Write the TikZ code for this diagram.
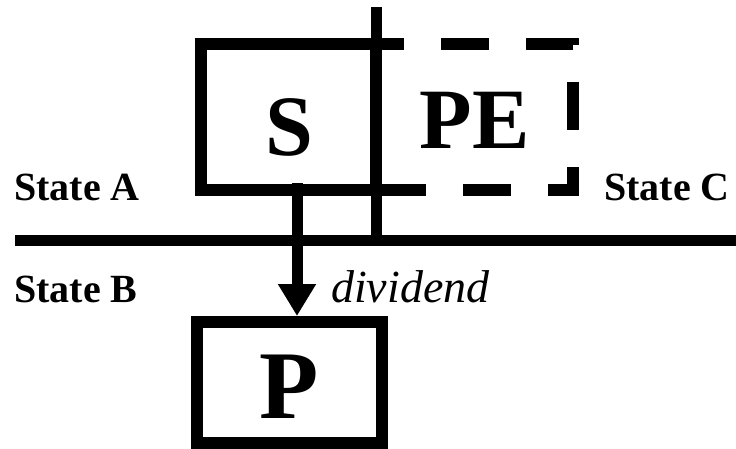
\documentclass[tikz,border=0pt]{standalone}
\usepackage{fontspec}
\setmainfont{Liberation Serif}
\usetikzlibrary{arrows.meta}
\begin{document}
\begin{tikzpicture}[x=1pt,y=-1pt,
  rule/.style={line width=11pt},
  boxline/.style={draw, line width=12pt, line join=miter, inner sep=0pt},
  lbl/.style={inner sep=0pt, anchor=base west, font=\fontsize{40}{48}\selectfont\bfseries},
  big/.style={inner sep=0pt, anchor=base, font=\fontsize{86}{100}\selectfont\bfseries},
  pedash/.style={line width=12pt, line join=miter, dash pattern=on 48pt off 37pt, dash phase=20pt}]
\useasboundingbox (0,0) rectangle (736,448);
% dashed PE box
\coordinate (peTL) at (376,44);
\coordinate (peBR) at (573,190);
\draw[pedash] (peTL) -- (peBR |- peTL) -- (peBR) -- (peTL |- peBR) -- cycle;
% S box and P box
\node[boxline, minimum width=175pt, minimum height=146pt] (Sbox) at (288.5,117) {};
\node[boxline, minimum width=185pt, minimum height=121pt] (Pbox) at (289.5,382.5) {};
% border lines
\coordinate (hL) at (15,240);
\coordinate (hR) at (736,240);
\coordinate (vT) at (376,7);
\draw[rule] (hL) -- (hR);
\draw[rule] (vT) -- (vT |- hL);
% dividend arrow
\coordinate (aS) at (297,183);
\draw[rule, -{Triangle[length=32pt,width=36pt]}] (aS) -- (aS |- Pbox.north);
% texts
\node[big] (Stxt) at (289,155.5) {S};
\node[big] (PEtxt) at (474.5,148) {PE};
\node[big, font=\fontsize{97}{110}\selectfont\bfseries] (Ptxt) at (289.5,418) {P};
\node[lbl] (stA) at (14,200) {State A};
\node[lbl] (stB) at (14,302) {State B};
\node[lbl] (stC) at (604,200) {State C};
\node[inner sep=0pt, anchor=base west, font=\fontsize{46}{55}\selectfont\itshape] (div) at (331,302) {dividend};
\end{tikzpicture}
\end{document}
